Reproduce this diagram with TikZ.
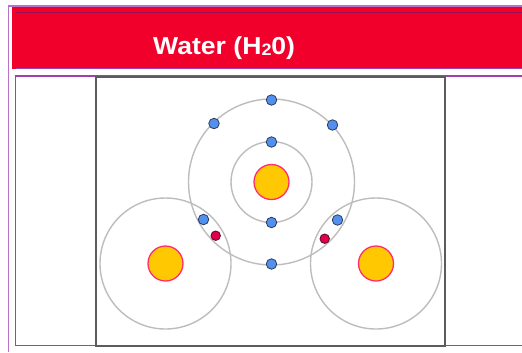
\documentclass[tikz,border=0pt]{standalone}
\usepackage{fontspec}
\setmainfont{Liberation Sans}
\definecolor{bannerred}{HTML}{F0002A}
\definecolor{bannerrule}{HTML}{9A1050}
\definecolor{outerpurple}{HTML}{BA72C8}
\definecolor{innerpurple}{HTML}{A040B0}
\definecolor{boxgray}{HTML}{5C5C5C}
\definecolor{orbitgray}{HTML}{BDBDBD}
\definecolor{nucleusfill}{HTML}{FFC800}
\definecolor{nucleusedge}{HTML}{FF2F6E}
\definecolor{electronfill}{HTML}{5390EE}
\definecolor{electronedge}{HTML}{2C3C60}
\definecolor{sharedfill}{HTML}{E0004C}
\definecolor{sharededge}{HTML}{5A0A28}
\begin{document}
\begin{tikzpicture}[x=1bp,y=-1bp,
  outerframe/.style={draw=outerpurple, line width=1.3bp},
  innerframe/.style={draw=innerpurple, line width=1.2bp},
  boxframe/.style={draw=boxgray, line width=1.6bp, fill=white},
  titletext/.style={text=white, inner sep=0pt, font=\fontsize{24.5bp}{28bp}\selectfont\bfseries},
  orbit/.style={circle, draw=orbitgray, line width=1.4bp, inner sep=0pt, outer sep=0pt, minimum size=#1},
  nucleus/.style={circle, draw=nucleusedge, fill=nucleusfill, line width=1.3bp, inner sep=0pt, minimum size=35bp},
  electron/.style={circle, draw=electronedge, fill=electronfill, line width=0.8bp, inner sep=0pt, minimum size=10.5bp},
  sharedelectron/.style={circle, draw=sharededge, fill=sharedfill, line width=0.8bp, inner sep=0pt, minimum size=9.5bp}]
\useasboundingbox (0,0) rectangle (522,352);

% page frames
\draw[outerframe] (8.5,352) |- (522,6);
\fill[bannerred] (12,7) rectangle (522,69);
\draw[draw=bannerrule, line width=0.8bp] (16,12.5) -- (522,12.5);
\draw[draw=innerpurple, line width=0.6bp] (16,68.7) -- (522,68.7);
\draw[innerframe] (522,76) -| (15.5,345.5) -- (522,345.5);
\draw[boxframe] (96,77) rectangle (445,346);

% heading
\node[titletext, anchor=base west] (title) at (153,54)
  {\scalebox{1.085}[1]{Water (H\raisebox{-1.5bp}{\fontsize{16.5bp}{18bp}\selectfont 2}0)}};

% atom centres
\coordinate (O) at (271.5,182);
\coordinate (HL) at (165.5,263.5);
\coordinate (HR) at (376,263.5);

% electron shells
\node[orbit=81bp] (Oinner) at (O) {};
\node[orbit=166bp] (Oouter) at (O) {};
\node[orbit=131bp] (HLshell) at (HL) {};
\node[orbit=131bp] (HRshell) at (HR) {};

% nuclei
\node[nucleus] (Onuc) at (O) {};
\node[nucleus] (HLnuc) at (HL) {};
\node[nucleus] (HRnuc) at (HR) {};

% oxygen electrons
\node[electron] (e1) at (271.5,142) {};
\node[electron] (e2) at (271.5,222.5) {};
\node[electron] (e3) at (271.5,100) {};
\node[electron] (e4) at (214,123.5) {};
\node[electron] (e5) at (332.5,125) {};
\node[electron] (e6) at (271.5,264) {};
\node[electron] (e7) at (203.5,219.5) {};
\node[electron] (e8) at (337.5,220) {};

% hydrogen electrons in the shared pairs
\node[sharedelectron] (h1) at (215.7,235.7) {};
\node[sharedelectron] (h2) at (324.7,238.7) {};
\end{tikzpicture}
\end{document}
